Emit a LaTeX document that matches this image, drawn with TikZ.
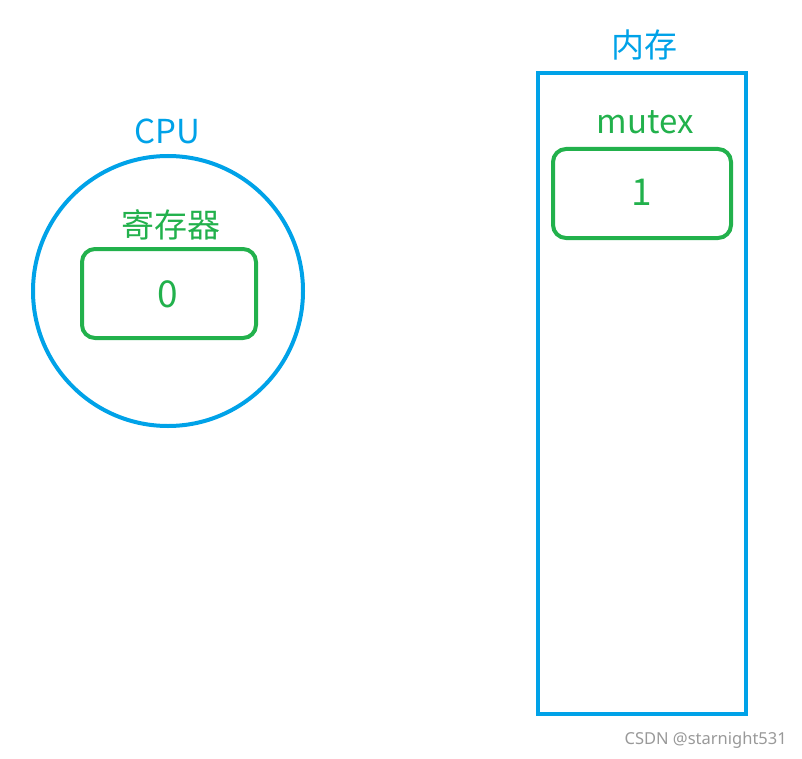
\documentclass[tikz,border=0pt]{standalone}
\usepackage{fontspec}
\setmainfont{Noto Sans CJK SC}
\newfontfamily\wmfont{Noto Sans}
\definecolor{pblue}{HTML}{00A2E8}
\definecolor{pgreen}{HTML}{22B14C}
\begin{document}
\begin{tikzpicture}[x=1pt,y=-1pt,
  bluebox/.style={draw=pblue,line width=4pt},
  greenbox/.style={draw=pgreen,line width=4pt,rounded corners=13pt},
  bluelabel/.style={text=pblue,font=\fontsize{33}{36}\selectfont,inner sep=0pt},
  greenlabel/.style={text=pgreen,font=\fontsize{33}{36}\selectfont,inner sep=0pt},
  digit/.style={text=pgreen,font=\fontsize{37}{40}\selectfont,inner sep=0pt}]
\useasboundingbox (0,0) rectangle (802,759);
% CPU
\node[bluebox,circle,minimum size=270pt,inner sep=0pt] (cpu) at (168,291) {};
\node[bluelabel] (cputxt) at (167,131) {CPU};
\node[greenlabel] (regtxt) at (171,225) {寄存器};
\node[greenbox,minimum width=174pt,minimum height=89pt,inner sep=0pt] (reg) at (169,293.5) {};
\node[digit] (regval) at (168,294) {0};
% Memory
\node[bluebox,rectangle,minimum width=208pt,minimum height=641pt,inner sep=0pt] (mem) at (642,393.5) {};
\node[bluelabel] (memtxt) at (644,45) {内存};
\node[greenlabel] (mutxt) at (645,122) {mutex};
\node[greenbox,minimum width=178pt,minimum height=89pt,inner sep=0pt] (mutex) at (642,193.5) {};
\node[digit] (muval) at (642,192) {1};
% watermark
\node[anchor=east,text=black!40,font=\wmfont\fontsize{16.5}{19}\selectfont,inner sep=0pt] (wm) at (787,740) {CSDN @starnight531};
\end{tikzpicture}
\end{document}
